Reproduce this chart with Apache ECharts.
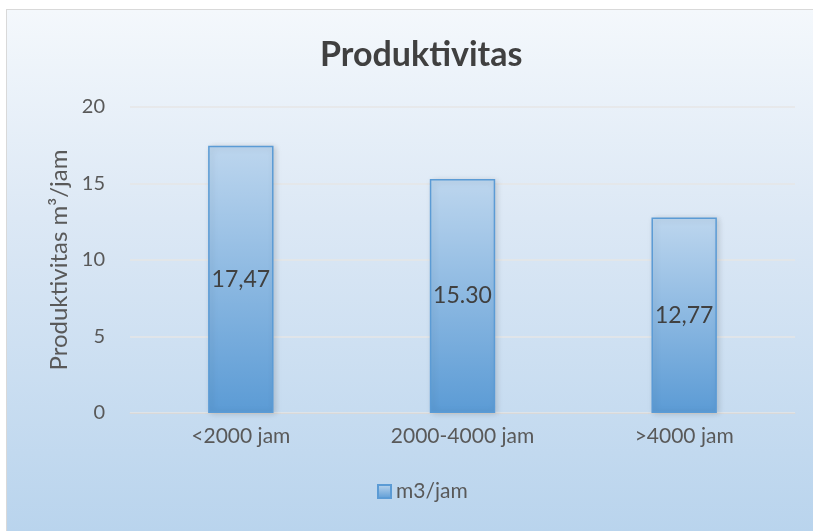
<!DOCTYPE html>
<html>
<head>
	<meta charset="utf-8">
	<title>Produktivitas</title>
	<style type="text/css">
		body{ margin: 0; background: #fff; }
		.bg-box{
			position: absolute; left: 6px; top: 9px; width: 806px; height: 522px;
			border-top: 1px solid #d9d9d9; border-left: 1px solid #d9d9d9;
			background: linear-gradient(to bottom, #f4f8fc 0%, #dce8f5 40%, #b9d4ed 100%);
		}
		#chart{ position: absolute; left: 0; top: 0; width: 814px; height: 531px; }
	</style>
</head>
<body>
<div class="bg-box"></div>
<div id="chart"></div>

<script src="https://cdn.jsdelivr.net/npm/echarts@6/dist/echarts.min.js"></script>
<script type="text/javascript">

	// 数据
	var categories = ['<2000 jam', '2000-4000 jam', '>4000 jam'];
	var values = [17.47, 15.30, 12.77];
	var valueLabels = ['17,47', '15.30', '12,77'];
	var seriesName = 'm3/jam';

	var font = 'Lato, "Open Sans", sans-serif';

	var myChart = echarts.init(document.getElementById('chart'));
	var option = {
		backgroundColor: 'transparent',
		textStyle: { fontFamily: font },
		title: {
			text: 'Produktivitas',
			left: 315,
			top: 33,
			textStyle: { color: '#404040', fontSize: 34, fontWeight: 'bold', fontFamily: font }
		},
		grid: { left: 130, right: 19, top: 107, bottom: 118 },
		legend: {
			bottom: 24,
			left: 372,
			itemWidth: 13,
			itemHeight: 13,
			itemGap: 4,
			icon: 'rect',
			textStyle: { color: '#595959', fontSize: 21, fontFamily: font },
			data: [seriesName]
		},
		xAxis: {
			type: 'category',
			data: categories,
			axisLine: { lineStyle: { color: '#d9d9d9' } },
			axisTick: { show: false },
			axisLabel: { color: '#595959', fontSize: 21, margin: 13, fontFamily: font }
		},
		yAxis: {
			type: 'value',
			min: 0,
			max: 20,
			interval: 5,
			name: 'Produktivitas m³/jam',
			nameLocation: 'middle',
			nameGap: 54,
			nameTextStyle: { color: '#595959', fontSize: 24, fontFamily: font },
			axisLine: { show: false },
			axisTick: { show: false },
			axisLabel: { color: '#595959', fontSize: 20, margin: 25, fontFamily: font },
			splitLine: { lineStyle: { color: '#e6e6e6', width: 1.5 } }
		},
		series: [{
			name: seriesName,
			type: 'bar',
			data: values,
			barWidth: '29.5%',
			label: {
				show: true,
				position: 'inside',
				color: '#404040',
				fontSize: 23,
				fontFamily: font,
				formatter: function(p) { return valueLabels[p.dataIndex]; }
			},
			itemStyle: {
				borderColor: '#5b9bd5',
				borderWidth: 1.5,
				shadowColor: 'rgba(0,0,0,0.15)',
				shadowBlur: 6,
				shadowOffsetX: 2,
				shadowOffsetY: 1,
				color: new echarts.graphic.LinearGradient(0, 0, 0, 1, [
					{ offset: 0, color: '#bdd6ee' },
					{ offset: 1, color: '#5b9bd5' }
				])
			}
		}]
	};
	myChart.setOption(option);

</script>
</body>
</html>
